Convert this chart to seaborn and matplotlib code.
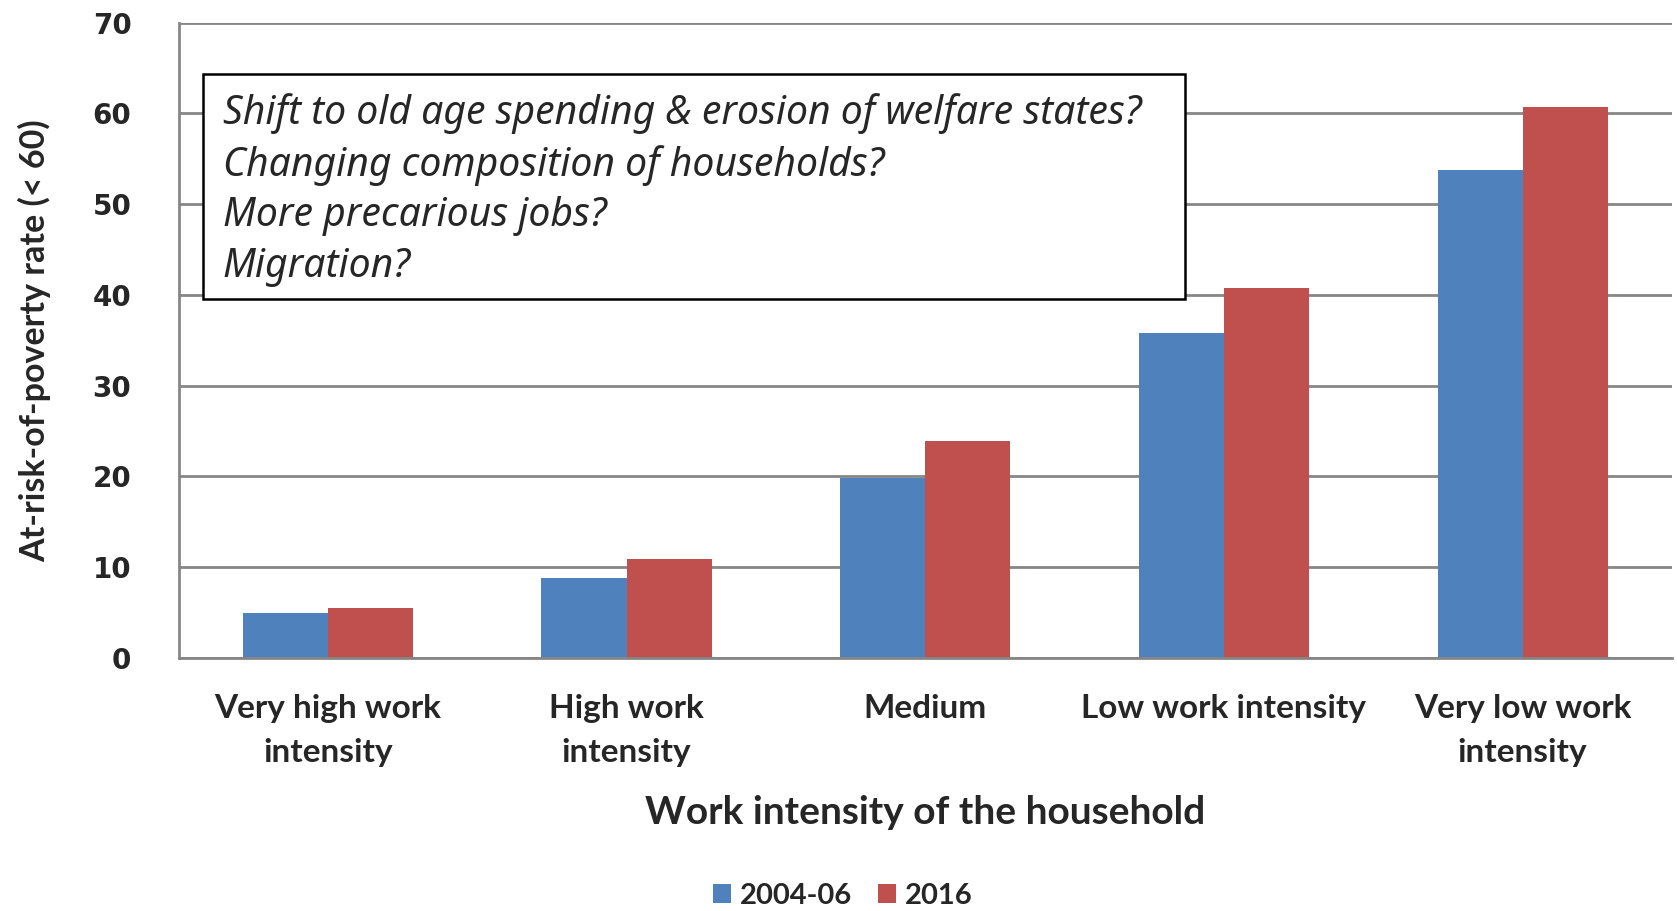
import matplotlib
matplotlib.use("Agg")
import matplotlib.pyplot as plt
import seaborn as sns
import pandas as pd
from matplotlib.patches import Patch, Rectangle

categories = ["Very high work\nintensity", "High work\nintensity", "Medium",
              "Low work intensity", "Very low work\nintensity"]
series_names = ["2004-06", "2016"]
values_2004_06 = [5.0, 8.8, 19.8, 35.8, 53.7]
values_2016 = [5.5, 10.9, 23.9, 40.8, 60.7]
y_ticks = [0, 10, 20, 30, 40, 50, 60, 70]
box_lines = ["Shift to old age spending & erosion of welfare states?",
             "Changing composition of households?",
             "More precarious jobs?",
             "Migration?"]
colors = ["#4F81BD", "#C0504D"]

df = pd.DataFrame({
    "category": categories * 2,
    "series": [series_names[0]] * len(categories) + [series_names[1]] * len(categories),
    "value": values_2004_06 + values_2016,
})

sns.set_style("white")
plt.rcParams["font.family"] = ["Lato", "DejaVu Sans"]

fig = plt.figure(figsize=(16.77, 9.11), dpi=100)
ax = fig.add_axes([0.1065, 0.2777, 0.8905, 0.6976])

sns.barplot(data=df, x="category", y="value", hue="series", palette=colors,
            width=0.57, gap=0, ax=ax, legend=False, saturation=1,
            edgecolor="none", linewidth=0)

ax.set_ylim(0, 70)
ax.set_xlim(-0.5, len(categories) - 0.5)
ax.set_yticks(y_ticks)
ax.set_yticklabels([str(t) for t in y_ticks], fontsize=20, fontweight="bold",
                   family="DejaVu Sans")
ax.yaxis.grid(True, color="#868686", linewidth=2)
ax.set_axisbelow(True)
for s in ["top", "right"]:
    ax.spines[s].set_visible(False)
ax.spines["left"].set_color("#868686")
ax.spines["left"].set_linewidth(2)
ax.spines["bottom"].set_color("#868686")
ax.spines["bottom"].set_linewidth(2)

ax.tick_params(axis="y", which="major", length=12, width=2, color="#868686", pad=22)
ax.set_xticks(range(len(categories)))
ax.set_xticklabels(categories, fontsize=24, fontweight="bold", family="Lato",
                   linespacing=1.62)
ax.tick_params(axis="x", which="major", length=0, pad=26)
ax.set_xticks([i - 0.5 for i in range(len(categories) + 1)], minor=True)
ax.tick_params(axis="x", which="minor", length=10, width=2, color="#868686")

ax.set_ylabel("At-risk-of-poverty rate (< 60)", fontsize=24.5, fontweight="bold",
              family="Lato", labelpad=30)
ax.set_xlabel("Work intensity of the household", fontsize=28, fontweight="bold",
              family="Lato", labelpad=20)

# annotation box
ax.add_patch(Rectangle((0.0163, 0.565), 0.674 - 0.0163, 0.919 - 0.565,
                       transform=ax.transAxes, facecolor="white", edgecolor="black",
                       linewidth=1.8, zorder=5))
line_y = [0.856, 0.775, 0.696, 0.615]
for txt, yy in zip(box_lines, line_y):
    ax.text(0.0294, yy, txt, transform=ax.transAxes, fontsize=28.2, fontstyle="italic",
            family="Noto Sans", va="center", ha="left", zorder=6)

handles = [Patch(facecolor=c, edgecolor="none", label=n) for c, n in zip(colors, series_names)]
fig.legend(handles=handles, loc="center", bbox_to_anchor=(843 / 1677, 1 - 896 / 911),
           ncol=2, frameon=False, prop={"family": "Lato", "weight": "bold", "size": 21},
           handlelength=0.62, handleheight=0.62, handletextpad=0.3, columnspacing=0.9)

fig.savefig("out.png", dpi=100)
